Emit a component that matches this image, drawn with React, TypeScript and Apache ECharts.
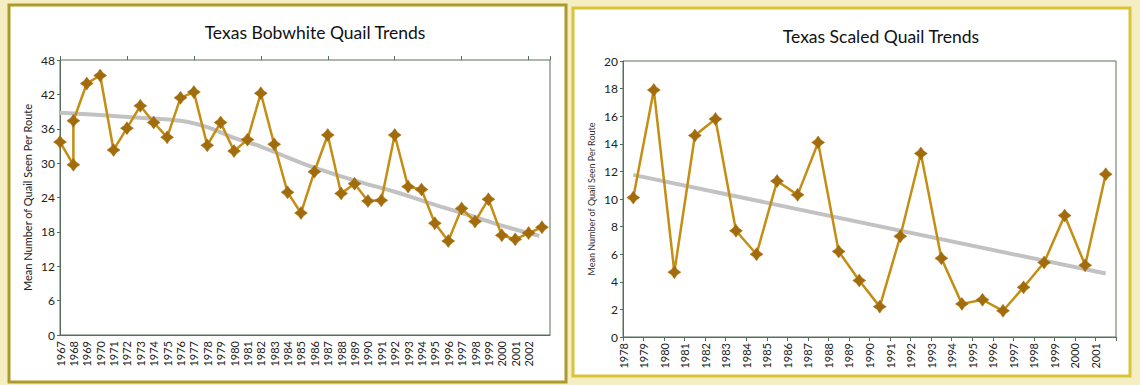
import React, { useEffect, useRef } from "react";
import * as echarts from "echarts";

// ---- Texas Bobwhite Quail (left chart) ----
const bobwhiteYears = [
  1967, 1968, 1968, 1969, 1970, 1971, 1972, 1973, 1974, 1975, 1976, 1977, 1978,
  1979, 1980, 1981, 1982, 1983, 1984, 1985, 1986, 1987, 1988, 1989, 1990, 1991,
  1992, 1993, 1994, 1995, 1996, 1997, 1998, 1999, 2000, 2001, 2002, 2003,
];
const bobwhiteValues = [
  33.7, 29.7, 37.4, 43.9, 45.3, 32.3, 36.1, 40.0, 37.1, 34.5, 41.4, 42.4, 33.1,
  37.1, 32.1, 34.1, 42.2, 33.3, 24.9, 21.3, 28.5, 34.9, 24.7, 26.4, 23.4, 23.5,
  34.9, 25.9, 25.4, 19.5, 16.4, 22.1, 19.8, 23.7, 17.4, 16.7, 17.8, 18.8,
];
const bobwhiteTrendYears = [
  1967, 1970, 1973, 1976, 1978, 1980, 1982, 1984, 1986, 1988, 1990, 1992, 1994,
  1996, 1998, 2000, 2002.8,
];
const bobwhiteTrendValues = [
  38.8, 38.4, 37.9, 37.4, 36.3, 34.4, 32.9, 31.0, 29.2, 27.7, 26.3, 25.0, 23.5,
  22.0, 20.6, 19.1, 17.3,
];

// ---- Texas Scaled Quail (right chart) ----
const scaledYears = [
  "1978", "1979", "1980", "1981", "1982", "1983", "1984", "1985", "1986", "1987",
  "1988", "1989", "1990", "1991", "1992", "1993", "1994", "1995", "1996", "1997",
  "1998", "1999", "2000", "2001",
];
const scaledValues = [
  10.1, 17.9, 4.7, 14.6, 15.8, 7.7, 6.0, 11.3, 10.3, 14.1, 6.2, 4.1, 2.2, 7.3,
  13.3, 5.7, 2.4, 2.7, 1.9, 3.6, 5.4, 8.8, 5.2, 11.8,
];
const scaledTickLabels = [
  "1978", "1979", "1980", "1981", "1982", "1983", "1984", "1985", "1986", "1987",
  "1988", "1989", "1990", "1991", "1992", "1993", "1994", "1995", "1996", "1997",
  "1998", "1999", "2000", "2001", "",
];
const scaledTrendStart = 11.75;
const scaledTrendEnd = 4.6;

const FONT = "Lato, 'DejaVu Sans', sans-serif";
const LINE = "#C48D14";
const MARK = "#A26C0C";
const AXIS = "#55705A";
const TREND = "#C2C2C2";
const STAR =
  "path://M0,-10 L4.2,-4.2 L10,0 L4.2,4.2 L0,10 L-4.2,4.2 L-10,0 L-4.2,-4.2 Z";

export default function App() {
  const ref = useRef<HTMLDivElement>(null);

  useEffect(() => {
    if (!ref.current) return;
    const chart = echarts.init(ref.current, undefined, { renderer: "svg" });

    const bobData = bobwhiteYears.map((y, i) => [y, bobwhiteValues[i]]);
    const bobTrend = bobwhiteTrendYears.map((y, i) => [y, bobwhiteTrendValues[i]]);

    const option: any = {
      animation: false,
      backgroundColor: "#F5EEC2",
      textStyle: { fontFamily: FONT },
      graphic: [
        {
          type: "rect",
          z: -10,
          shape: { x: 9, y: 5, width: 557, height: 377 },
          style: { fill: "#FFFFFF", stroke: "#AE9A2A", lineWidth: 3 },
        },
        {
          type: "rect",
          z: -10,
          shape: { x: 573, y: 8, width: 557, height: 368 },
          style: { fill: "#FFFFFF", stroke: "#D9C43A", lineWidth: 3 },
        },
        {
          type: "text",
          x: 315,
          y: 32,
          style: {
            text: "Texas Bobwhite Quail Trends",
            textAlign: "center",
            textVerticalAlign: "middle",
            font: `17.5px ${FONT}`,
            fill: "#111",
          },
        },
        {
          type: "text",
          x: 881,
          y: 36,
          style: {
            text: "Texas Scaled Quail Trends",
            textAlign: "center",
            textVerticalAlign: "middle",
            font: `17.5px ${FONT}`,
            fill: "#111",
          },
        },
      ],
      grid: [
        {
          left: 60,
          right: 590,
          top: 60,
          bottom: 50,
          show: true,
          backgroundColor: "#FFFFFF",
          borderColor: AXIS,
          borderWidth: 1,
        },
        {
          left: 623,
          right: 24,
          top: 61,
          bottom: 48,
          show: true,
          backgroundColor: "#FFFFFF",
          borderColor: AXIS,
          borderWidth: 1,
        },
      ],
      xAxis: [
        {
          type: "value",
          gridIndex: 0,
          min: 1967,
          max: 2003.6,
          interval: 1,
          axisLine: { lineStyle: { color: AXIS } },
          axisTick: { show: false },
          splitLine: { show: false },
          axisLabel: {
            rotate: 90,
            fontSize: 11,
            margin: 6,
            color: "#222",
            formatter: (v: number) =>
              Number.isInteger(v) && v <= 2002 ? String(v) : "",
          },
        },
        {
          type: "value",
          gridIndex: 0,
          min: 1967,
          max: 2003.6,
          interval: 5,
          axisLine: { show: false },
          axisTick: { show: true, length: 4, lineStyle: { color: AXIS } },
          axisLabel: { show: false },
          splitLine: { show: false },
        },
        {
          type: "category",
          gridIndex: 1,
          data: scaledYears,
          boundaryGap: true,
          axisLine: { lineStyle: { color: AXIS } },
          axisTick: { show: false },
          axisLabel: { show: false },
        },
        {
          type: "category",
          gridIndex: 1,
          position: "bottom",
          data: scaledTickLabels,
          boundaryGap: false,
          axisLine: { show: false },
          axisTick: { show: true, length: 4, interval: 0, lineStyle: { color: AXIS } },
          axisLabel: {
            interval: 0,
            rotate: 90,
            fontSize: 11,
            margin: 6,
            color: "#222",
          },
        },
      ],
      yAxis: [
        {
          type: "value",
          gridIndex: 0,
          min: 0,
          max: 48,
          interval: 6,
          name: "Mean Number of Quail Seen Per Route",
          nameLocation: "middle",
          nameRotate: 90,
          nameGap: 27,
          nameTextStyle: { fontSize: 11, color: "#222" },
          axisLine: { show: true, lineStyle: { color: AXIS } },
          axisTick: { show: true, length: 3, lineStyle: { color: AXIS } },
          axisLabel: { fontSize: 12, color: "#222", margin: 5 },
          splitLine: { show: false },
        },
        {
          type: "value",
          gridIndex: 1,
          min: 0,
          max: 20,
          interval: 2,
          name: "Mean Number of Quail Seen Per Route",
          nameLocation: "middle",
          nameRotate: 90,
          nameGap: 27,
          nameTextStyle: { fontSize: 9, color: "#333" },
          axisLine: { show: true, lineStyle: { color: AXIS } },
          axisTick: { show: true, length: 3, lineStyle: { color: AXIS } },
          axisLabel: { fontSize: 12, color: "#222", margin: 5 },
          splitLine: { show: false },
        },
      ],
      series: [
        {
          name: "Bobwhite trend",
          type: "line",
          xAxisIndex: 0,
          yAxisIndex: 0,
          data: bobTrend,
          smooth: 0.4,
          showSymbol: false,
          lineStyle: { color: TREND, width: 4 },
          z: 1,
        },
        {
          name: "Bobwhite",
          type: "line",
          xAxisIndex: 0,
          yAxisIndex: 0,
          data: bobData,
          symbol: STAR,
          symbolSize: 13,
          lineStyle: { color: LINE, width: 2.5 },
          itemStyle: { color: MARK, borderColor: MARK, borderWidth: 0.5 },
          z: 3,
        },
        {
          name: "Scaled trend",
          type: "line",
          xAxisIndex: 2,
          yAxisIndex: 1,
          data: [
            [scaledYears[0], scaledTrendStart],
            [scaledYears[scaledYears.length - 1], scaledTrendEnd],
          ],
          showSymbol: false,
          lineStyle: { color: TREND, width: 4 },
          z: 1,
        },
        {
          name: "Scaled",
          type: "line",
          xAxisIndex: 2,
          yAxisIndex: 1,
          data: scaledValues,
          symbol: STAR,
          symbolSize: 13,
          lineStyle: { color: LINE, width: 2.5 },
          itemStyle: { color: MARK, borderColor: MARK, borderWidth: 0.5 },
          z: 3,
        },
      ],
    };

    chart.setOption(option);
    return () => chart.dispose();
  }, []);

  return (
    <div
      ref={ref}
      style={{ position: "absolute", left: 0, top: 0, width: 1140, height: 385 }}
    />
  );
}
